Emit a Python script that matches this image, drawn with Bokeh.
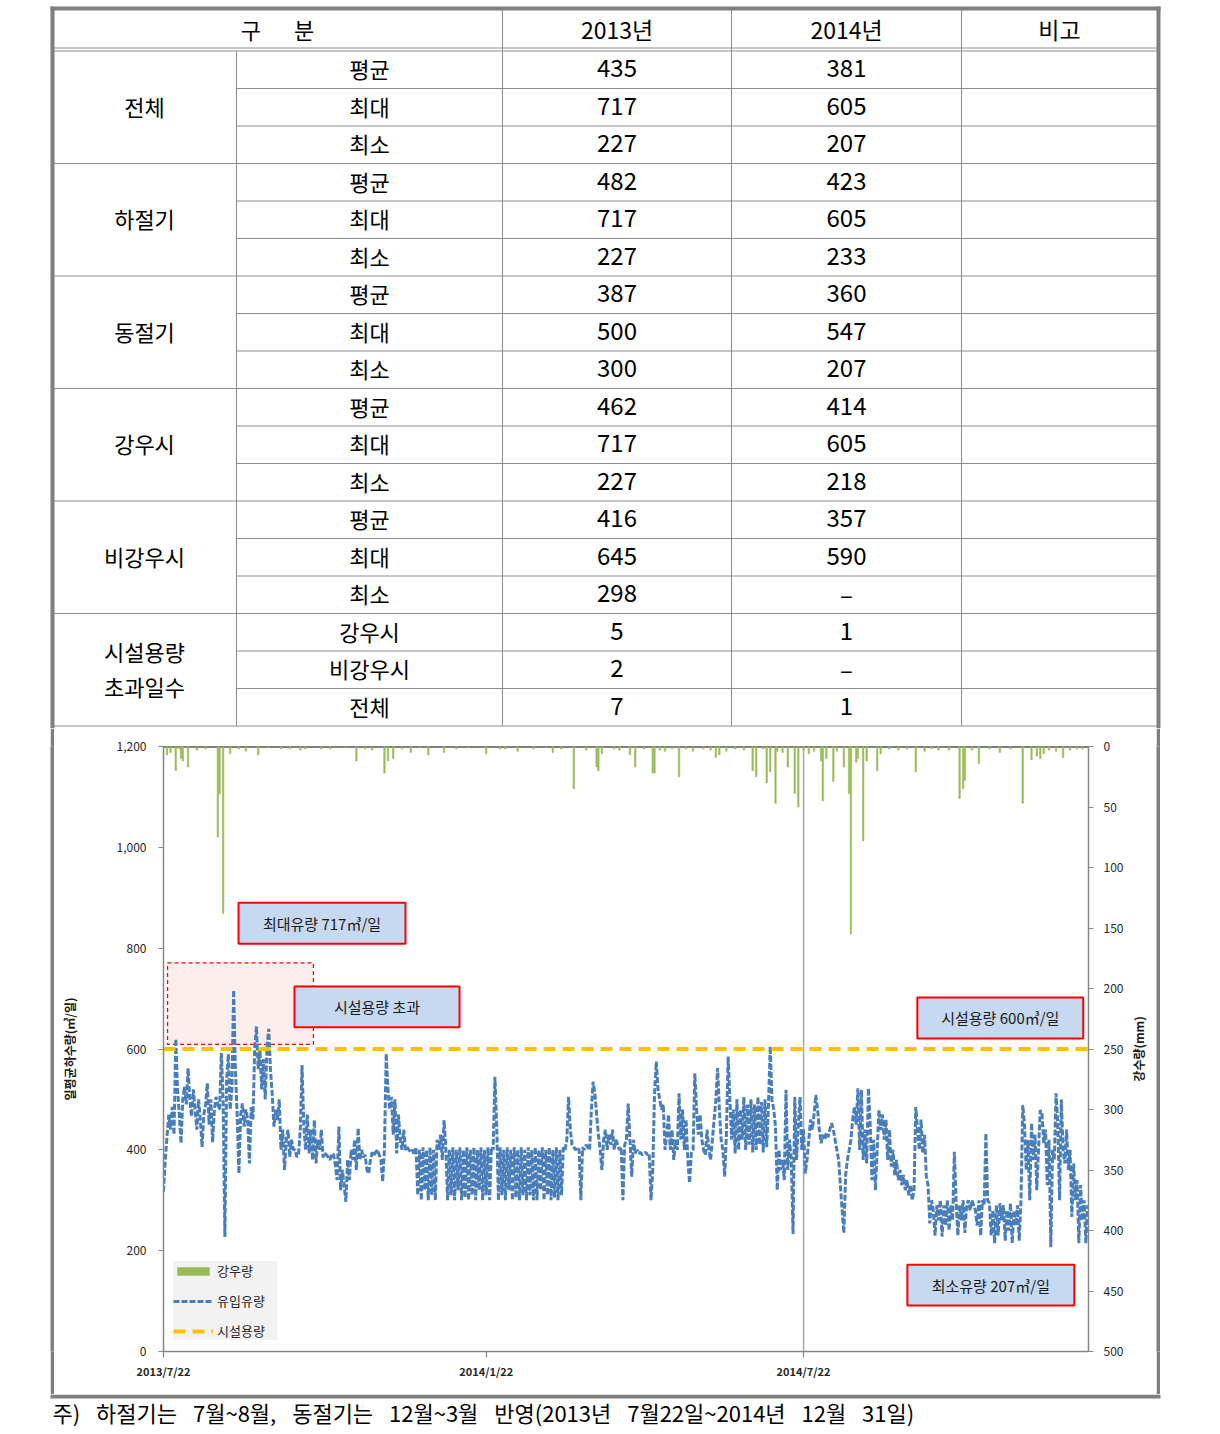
import math
import pandas as pd
from bokeh.plotting import figure
from bokeh.models import (Range1d, LinearAxis, FixedTicker, NumeralTickFormatter, Span,
                          BoxAnnotation, Label, Legend, LegendItem)
from bokeh.layouts import column, row
from bokeh.embed import file_html
from bokeh.resources import INLINE
from bokeh.core.properties import value

# ---------------- table data ----------------
header_labels = ["구\u2003\u2002분", "2013년", "2014년", "비고"]
group_labels = ["전체", "하절기", "동절기", "강우시", "비강우시", "시설용량\n초과일수"]
row_labels = ["평균", "최대", "최소"] * 5 + ["강우시", "비강우시", "전체"]
values_2013 = ["435", "717", "227", "482", "717", "227", "387", "500", "300",
               "462", "717", "227", "416", "645", "298", "5", "2", "7"]
values_2014 = ["381", "605", "207", "423", "605", "233", "360", "547", "207",
               "414", "605", "218", "357", "590", "–", "1", "–", "1"]

# ---------------- chart data ----------------
start_date = "2013-07-22"
inflow = [
    317, 380, 426, 470, 440, 485, 430, 620, 520, 470,
    413, 500, 525, 490, 562, 500, 466, 520, 480, 440,
    500, 460, 406, 470, 490, 532, 450, 500, 415, 480,
    505, 490, 480, 592, 500, 227, 540, 590, 480, 520,
    717, 560, 470, 353, 470, 492, 446, 480, 460, 373,
    485, 460, 600, 645, 560, 600, 520, 580, 500, 600,
    640, 560, 510, 446, 480, 459, 500, 400, 440, 360,
    420, 440, 386, 420, 400, 400, 386, 390, 440, 568,
    450, 400, 470, 393, 440, 380, 459, 373, 420, 400,
    440, 385, 393, 390, 385, 380, 393, 390, 370, 340,
    446, 320, 360, 330, 297, 380, 340, 400, 380, 420,
    360, 443, 380, 400, 385, 390, 360, 353, 380, 395,
    390, 395, 400, 390, 380, 337, 400, 591, 520, 480,
    505, 430, 500, 393, 470, 420, 400, 440, 400, 405,
    400, 395, 400, 390, 405, 310, 400, 300, 405, 320,
    400, 300, 405, 310, 400, 300, 420, 400, 430, 380,
    459, 405, 300, 400, 310, 405, 300, 400, 320, 405,
    300, 400, 305, 405, 300, 400, 310, 405, 300, 400,
    320, 405, 300, 400, 310, 405, 300, 405, 400, 545,
    450, 300, 405, 310, 400, 300, 405, 320, 400, 300,
    405, 305, 400, 300, 405, 310, 400, 300, 405, 310,
    400, 300, 405, 300, 400, 320, 405, 300, 400, 310,
    405, 300, 400, 305, 405, 300, 400, 310, 405, 400,
    420, 505, 440, 410, 405, 400, 405, 400, 300, 405,
    400, 410, 405, 400, 480, 535, 512, 470, 430, 400,
    360, 420, 440, 400, 430, 410, 440, 400, 420, 410,
    400, 405, 300, 410, 420, 492, 420, 347, 420, 393,
    400, 393, 395, 390, 393, 395, 390, 393, 300, 360,
    510, 575, 520, 500, 480, 490, 400, 430, 470, 400,
    440, 380, 420, 400, 512, 420, 480, 400, 460, 380,
    334, 393, 400, 552, 480, 430, 470, 420, 400, 390,
    440, 400, 380, 420, 460, 500, 562, 480, 420, 400,
    347, 430, 585, 500, 420, 480, 393, 500, 400, 480,
    420, 505, 400, 490, 410, 500, 395, 490, 400, 505,
    410, 495, 395, 500, 405, 490, 605, 499, 480, 446,
    320, 400, 360, 380, 340, 519, 360, 420, 380, 233,
    505, 380, 450, 505, 400, 440, 353, 380, 420, 460,
    440, 470, 509, 480, 440, 413, 430, 420, 433, 425,
    440, 453, 440, 420, 400, 380, 330, 280, 235, 350,
    380, 399, 420, 460, 485, 450, 522, 400, 519, 380,
    440, 373, 522, 450, 340, 420, 320, 400, 479, 439,
    470, 420, 460, 380, 440, 367, 400, 350, 380, 340,
    360, 330, 350, 320, 340, 310, 330, 300, 320, 485,
    440, 400, 460, 393, 430, 347, 330, 254, 300, 280,
    230, 290, 260, 300, 228, 290, 250, 300, 240, 290,
    260, 396, 300, 230, 290, 260, 300, 235, 290, 300,
    280, 300, 290, 280, 250, 300, 230, 300, 290, 433,
    300, 294, 230, 280, 215, 290, 230, 294, 260, 290,
    220, 280, 240, 294, 215, 280, 250, 290, 220, 300,
    489, 450, 360, 420, 300, 453, 380, 430, 320, 400,
    479, 470, 413, 440, 330, 420, 207, 400, 380, 512,
    450, 300, 500, 400, 373, 440, 360, 400, 267, 373,
    300, 340, 215, 330, 260, 300, 215, 290,
]
capacity = 600

rain_dates = [
    "2013-07-24", "2013-07-26", "2013-07-29", "2013-07-31", "2013-08-01", "2013-08-02",
    "2013-08-05", "2013-08-10", "2013-08-15", "2013-08-22", "2013-08-23", "2013-08-25",
    "2013-08-29", "2013-09-03", "2013-09-07", "2013-09-14", "2013-09-20", "2013-09-27",
    "2013-10-02", "2013-10-08", "2013-10-11", "2013-10-20", "2013-10-25", "2013-11-03",
    "2013-11-09", "2013-11-14", "2013-11-18", "2013-11-25", "2013-11-27", "2013-11-30",
    "2013-12-05", "2013-12-10", "2013-12-15", "2013-12-20", "2013-12-29", "2014-01-05",
    "2014-01-12", "2014-01-22", "2014-01-30", "2014-02-02", "2014-02-09", "2014-02-18",
    "2014-02-25", "2014-03-01", "2014-03-06", "2014-03-13", "2014-03-20", "2014-03-26",
    "2014-03-27", "2014-03-29", "2014-04-05", "2014-04-08", "2014-04-14", "2014-04-17",
    "2014-04-22", "2014-04-27", "2014-04-28", "2014-05-01", "2014-05-04", "2014-05-08",
    "2014-05-12", "2014-05-16", "2014-05-20", "2014-05-26", "2014-05-30", "2014-06-02",
    "2014-06-04", "2014-06-08", "2014-06-13", "2014-06-18", "2014-06-23", "2014-06-25",
    "2014-06-29", "2014-07-01", "2014-07-03", "2014-07-06", "2014-07-07", "2014-07-10",
    "2014-07-13", "2014-07-17", "2014-07-19", "2014-07-22", "2014-07-25", "2014-07-28",
    "2014-08-01", "2014-08-02", "2014-08-04", "2014-08-08", "2014-08-10", "2014-08-14",
    "2014-08-17", "2014-08-18", "2014-08-21", "2014-08-22", "2014-08-25", "2014-08-27",
    "2014-09-02", "2014-09-04", "2014-09-09", "2014-09-14", "2014-09-19", "2014-09-24",
    "2014-09-29", "2014-10-03", "2014-10-07", "2014-10-13", "2014-10-19", "2014-10-21",
    "2014-10-22", "2014-10-26", "2014-10-30", "2014-11-05", "2014-11-11", "2014-11-17",
    "2014-11-24", "2014-11-29", "2014-12-02", "2014-12-04", "2014-12-06", "2014-12-09",
    "2014-12-13", "2014-12-17", "2014-12-21", "2014-12-25", "2014-12-28",
]
rain_mm = [
    7, 5, 20, 2, 10, 12,
    17, 3, 2, 75, 39, 138,
    6, 2, 4, 7, 1, 2,
    2, 3, 2, 2, 2, 1,
    12, 2, 3, 22, 12, 10,
    2, 5, 1, 7, 5, 2,
    1, 6, 2, 2, 4, 2,
    1, 5, 2, 35, 3, 17,
    20, 6, 2, 3, 7, 17,
    2, 22, 22, 3, 4, 2,
    25, 2, 4, 2, 3, 9,
    7, 4, 2, 3, 20, 25,
    2, 30, 21, 47, 4, 5,
    17, 39, 50, 3, 6, 4,
    12, 45, 10, 29, 4, 17,
    39, 155, 13, 10, 78, 12,
    20, 6, 2, 3, 2, 21,
    4, 2, 3, 3, 43, 35,
    28, 3, 14, 2, 5, 2,
    47, 11, 8, 10, 6, 3,
    4, 9, 3, 2, 2,
]

x_tick_dates = ["2013-07-22", "2014-01-22", "2014-07-22"]
x_tick_labels = ["2013/7/22", "2014/1/22", "2014/7/22"]
flow_ticks = [0, 200, 400, 600, 800, 1000, 1200]
rain_ticks = [0, 50, 100, 150, 200, 250, 300, 350, 400, 450, 500]
legend_labels = ["강우량", "유입유량", "시설용량"]
callout_texts = ["최대유량 717㎥/일", "시설용량 초과", "시설용량 600㎥/일", "최소유량 207㎥/일"]
flow_title = "일평균하수량(㎥/일)"
rain_title = "강수량(mm)"
footnote = ("주)\u2002 하절기는\u2002 7월~8월,\u2002 동절기는\u2002 12월~3월\u2002 "
            "반영(2013년\u2002 7월22일~2014년\u2002 12월\u2002 31일)")

# ---------------- styles ----------------
KR = "Noto Sans CJK KR"
NUM = "Liberation Sans Narrow, Noto Sans CJK KR"
FRAME = "#7f7f7f"
GRIDC = "#8c8c8c"
GREEN = "#9bbb59"
BLUE = "#4a7ebb"
YELLOW = "#ffc000"
AXC = "#868686"
W = 1220


def blank(width, height, ymax, fill="white"):
    f = figure(width=width, height=height, x_range=Range1d(0, width), y_range=Range1d(ymax, 0),
               output_backend="svg", toolbar_location=None, min_border=0,
               x_axis_location=None, y_axis_location=None, outline_line_color=None)
    f.grid.visible = False
    f.background_fill_color = fill
    f.border_fill_color = fill
    return f


# ---------------- table figure ----------------
TH = 728
tf = blank(W, TH, TH)
cx = [52, 236, 502, 731, 961, 1157]
top0, rh = 50.5, 37.5
nrows = len(row_labels)

sx0, sy0, sx1, sy1 = [], [], [], []
for yy in (47.5, 50.5):
    sx0.append(cx[0]); sx1.append(cx[-1]); sy0.append(yy); sy1.append(yy)
for i in range(1, nrows + 1):
    yy = top0 + i * rh
    sx0.append(cx[0] if i % 3 == 0 else cx[1]); sx1.append(cx[-1]); sy0.append(yy); sy1.append(yy)
sx0.append(cx[1]); sx1.append(cx[1]); sy0.append(top0); sy1.append(top0 + nrows * rh)
for xx in cx[2:5]:
    sx0.append(xx); sx1.append(xx); sy0.append(9); sy1.append(top0 + nrows * rh)
tf.segment(x0=sx0, y0=sy0, x1=sx1, y1=sy1, line_color=GRIDC, line_width=1)

tf.quad(left=[50, 1156, 50], right=[54, 1160, 1160], top=[6, 6, 6], bottom=[TH, TH, 10],
        fill_color=FRAME, line_color=None)

hx = [(cx[0] + cx[2]) / 2, (cx[2] + cx[3]) / 2, (cx[3] + cx[4]) / 2, (cx[4] + cx[5]) / 2]
tf.text(x=hx[:1], y=[28.5], text=header_labels[:1], text_font=value(KR), text_font_size="22px",
        text_align="center", text_baseline="middle", text_color="black")
tf.text(x=hx[1:], y=[28.5] * 3, text=header_labels[1:], text_font=value(NUM), text_font_size="23px",
        text_align="center", text_baseline="middle", text_color="black")

gy = [top0 + (3 * g + 1.5) * rh - 1.5 for g in range(len(group_labels))]
tf.text(x=[(cx[0] + cx[1]) / 2] * len(group_labels), y=gy, text=group_labels, text_font=value(KR),
        text_font_size="22px", text_align="center", text_baseline="middle", text_color="black",
        text_line_height=1.1)
ry = [top0 + (i + 0.5) * rh - 1.5 for i in range(nrows)]
tf.text(x=[(cx[1] + cx[2]) / 2] * nrows, y=ry, text=row_labels, text_font=value(KR),
        text_font_size="22px", text_align="center", text_baseline="middle", text_color="black")
tf.text(x=[hx[1]] * nrows, y=ry, text=values_2013, text_font=value(NUM), text_font_size="24px",
        text_align="center", text_baseline="middle", text_color="black")
tf.text(x=[hx[2]] * nrows, y=ry, text=values_2014, text_font=value(NUM), text_font_size="24px",
        text_align="center", text_baseline="middle", text_color="black")

# ---------------- chart figure ----------------
CH = 666
CW = 1074          # page x 54 .. 1128
TW = 28            # page x 1128 .. 1156 (right axis title strip)
DAY = 86400000.0


def ms(d):
    return pd.Timestamp(d).value / 1e6


dates = pd.date_range(start_date, periods=len(inflow), freq="D")
x0 = ms(start_date)
x1 = x0 + (len(inflow) - 0.5) * DAY

cf = figure(width=CW, height=CH, x_axis_type="datetime", x_range=Range1d(x0, x1),
            y_range=Range1d(0, 1200), output_backend="svg", toolbar_location=None,
            min_border_left=109, min_border_right=40, min_border_top=18, min_border_bottom=43,
            outline_line_color=None)
cf.grid.visible = False
cf.extra_y_ranges = {"rain": Range1d(start=500, end=0)}

cf.add_layout(Span(location=1200, dimension="width", line_color="black", line_width=2, level="underlay"))
cf.add_layout(Span(location=ms("2014-07-22"), dimension="height", line_color="#a6a6a6",
                   line_width=1.5, level="underlay"))

# highlighted exceedance region
cf.add_layout(BoxAnnotation(left=x0 + 2.3 * DAY, right=x0 + 85.5 * DAY, bottom=609, top=771,
                            fill_color="#fbeeec", fill_alpha=1, line_color="#ff0000",
                            line_alpha=1, line_width=1.3, line_dash="4 3", level="underlay"))

rain_x = [ms(d) for d in rain_dates]
r_rain = cf.vbar(x=rain_x, top=0, bottom=rain_mm, width=0.9 * DAY, y_range_name="rain",
                 fill_color=GREEN, line_color=GREEN, line_width=0.5)

r_flow = cf.line(x=dates, y=inflow, line_color=BLUE, line_width=3, line_dash="6 2")
r_cap = cf.line(x=[dates[0], dates[-1]], y=[capacity, capacity], line_color=YELLOW,
                line_width=4, line_dash="12 7")

# axes
xa = cf.xaxis[0]
xa.ticker = FixedTicker(ticks=[ms(d) for d in x_tick_dates])
xa.major_label_overrides = {ms(d): lab for d, lab in zip(x_tick_dates, x_tick_labels)}
ya = cf.yaxis[0]
ya.ticker = FixedTicker(ticks=flow_ticks)
ya.formatter = NumeralTickFormatter(format="0,0")
ya.axis_label = flow_title
ra = LinearAxis(y_range_name="rain", ticker=FixedTicker(ticks=rain_ticks))
cf.add_layout(ra, "right")

for ax in (xa, ya, ra):
    ax.axis_line_color = AXC
    ax.axis_line_width = 1.5
    ax.major_tick_line_color = AXC
    ax.major_tick_line_width = 1.2
    ax.minor_tick_line_color = None
    ax.major_tick_in = 0
    ax.major_tick_out = 5
    ax.major_label_text_font = KR
    ax.major_label_text_font_size = "12px"
    ax.major_label_text_color = "#262626"
    ax.axis_label_text_font = KR
    ax.axis_label_text_font_size = "12px"
    ax.axis_label_text_font_style = "bold"
    ax.axis_label_text_color = "#1a1a1a"
xa.major_tick_out = 6
xa.major_label_standoff = 5
xa.major_label_text_font_size = "11px"
xa.major_label_text_font_style = "bold"
ya.major_label_standoff = 12
ya.axis_label_standoff = 36
ra.major_label_standoff = 10

legend = Legend(items=[LegendItem(label=legend_labels[0], renderers=[r_rain]),
                       LegendItem(label=legend_labels[1], renderers=[r_flow]),
                       LegendItem(label=legend_labels[2], renderers=[r_cap])],
                location=(10, 11), background_fill_color="#f2f2f2", background_fill_alpha=1,
                border_line_color=None, label_text_font=KR, label_text_font_size="13px",
                label_text_color="#262626", glyph_width=40, glyph_height=10, label_height=16,
                label_width=60, spacing=11, padding=7, margin=0, label_standoff=4)
cf.add_layout(legend)

# callout boxes (positions in day offsets / flow units)
boxes = [(42.8, 138.0, 809, 890), (74.7, 168.8, 643, 724), (429.9, 524.5, 621, 702), (424.2, 519.4, 91, 172)]
for (d0, d1, f0, f1), txt in zip(boxes, callout_texts):
    cf.add_layout(BoxAnnotation(left=x0 + d0 * DAY, right=x0 + d1 * DAY, bottom=f0, top=f1,
                                fill_color="#c6d9f1", fill_alpha=1, line_color="#ff0000",
                                line_alpha=1, line_width=2))
    cf.add_layout(Label(x=x0 + (d0 + d1) / 2 * DAY, y=(f0 + f1) / 2, text=txt,
                        text_align="center", text_baseline="middle", text_font=KR,
                        text_font_size="15px", text_color="#1a1a1a"))

# right-axis title strip (frame is aligned with the chart frame by the row layout)
tt = figure(width=TW, height=CH, x_range=Range1d(0, TW), y_range=Range1d(0, 1),
            output_backend="svg", toolbar_location=None, min_border=0,
            x_axis_location=None, y_axis_location=None, outline_line_color=None)
tt.grid.visible = False
tt.text(x=[10], y=[0.5], text=[rain_title], angle=math.pi / 2, text_font=value(KR),
        text_font_size="12px", text_font_style="bold", text_color="#1a1a1a",
        text_align="center", text_baseline="middle")

# side frames for the chart block
lw = blank(50, CH, CH)
lg = blank(4, CH, CH, fill=FRAME)
rg = blank(4, CH, CH, fill=FRAME)
rw = blank(W - 50 - 4 - CW - TW - 4, CH, CH)

# footnote
FH = 1434 - TH - CH
ff = blank(W, FH, FH)
ff.quad(left=[50], right=[1160], top=[0], bottom=[4], fill_color=FRAME, line_color=None)
ff.text(x=[52], y=[17], text=[footnote], text_font=value(KR), text_font_size="22px",
        text_align="left", text_baseline="middle", text_color="black")

layout = column(tf, row(lw, lg, cf, tt, rg, rw, spacing=0), ff, spacing=0)
open("out.html", "w").write(file_html(layout, INLINE))
